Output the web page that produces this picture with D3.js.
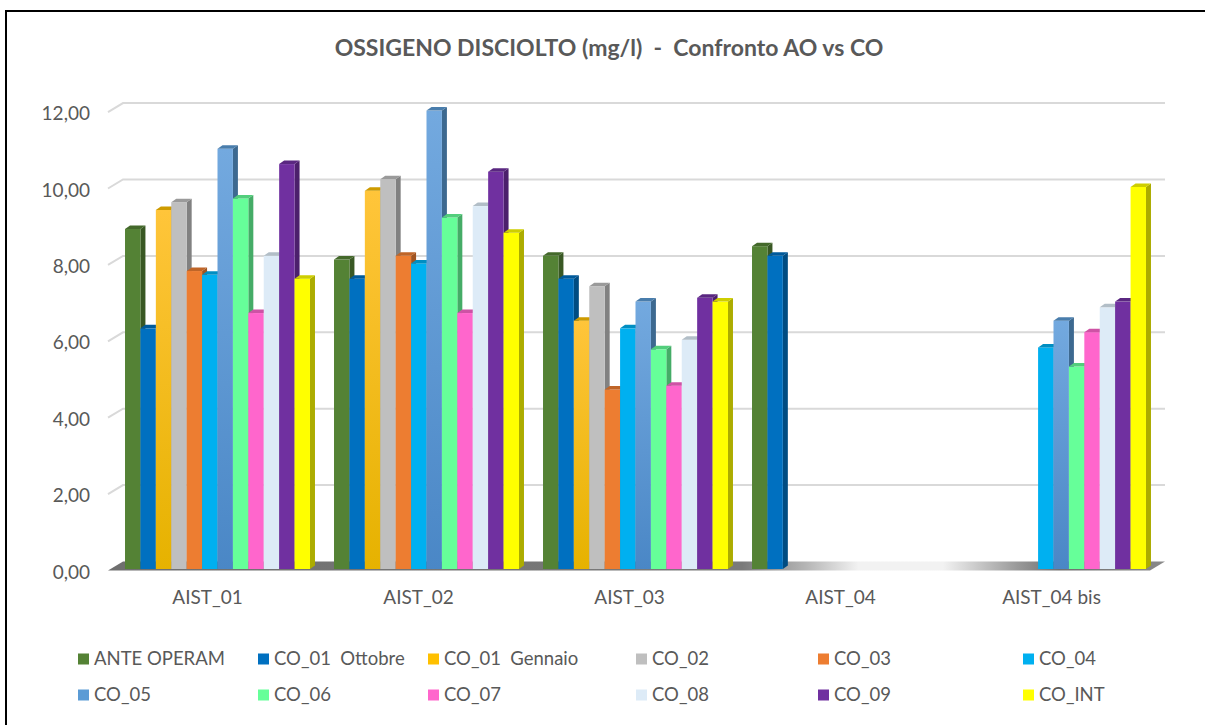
<!DOCTYPE html>
<html>
<head>
<meta charset="utf-8">
<script src="https://cdn.jsdelivr.net/npm/d3@7"></script>
<style>
  html, body { margin: 0; padding: 0; background: #ffffff; }
  svg text { font-family: Lato, "Open Sans", sans-serif; fill: #595959; white-space: pre; }
</style>
</head>
<body>
<script>
// Stations on the x axis
const categories = ["AIST_01", "AIST_02", "AIST_03", "AIST_04", "AIST_04 bis"];

// Campaign names (legend order = bar order inside each station)
const seriesNames = ["ANTE OPERAM", "CO_01  Ottobre", "CO_01  Gennaio", "CO_02", "CO_03", "CO_04",
                     "CO_05", "CO_06", "CO_07", "CO_08", "CO_09", "CO_INT"];

// Dissolved oxygen (mg/l) per campaign, one value per station (null = not sampled)
const anteOperam   = [8.9, 8.1, 8.2, 8.45, null];
const co01Ottobre  = [6.3, 7.6, 7.6, 8.2, null];
const co01Gennaio  = [9.4, 9.9, 6.5, null, null];
const co02         = [9.6, 10.2, 7.4, null, null];
const co03         = [7.8, 8.2, 4.7, null, null];
const co04         = [7.7, 8.0, 6.3, null, 5.8];
const co05         = [11.0, 12.0, 7.0, null, 6.5];
const co06         = [9.7, 9.2, 5.75, null, 5.3];
const co07         = [6.7, 6.7, 4.8, null, 6.2];
const co08         = [8.2, 9.5, 6.0, null, 6.85];
const co09         = [10.6, 10.4, 7.1, null, 7.0];
const coInt        = [7.6, 8.8, 7.0, null, 10.0];

const seriesValues = [anteOperam, co01Ottobre, co01Gennaio, co02, co03, co04,
                      co05, co06, co07, co08, co09, coInt];

// Y axis ticks
const yTicks = [0, 2, 4, 6, 8, 10, 12];

const titleText = "OSSIGENO DISCIOLTO (mg/l)  -  Confronto AO vs CO";

const colors = ["#548235", "#0070C0", "#FFC000", "#BFBFBF", "#ED7D31", "#00B0F0",
                "#5B9BD5", "#66FF99", "#FF66CC", "#DDEBF7", "#7030A0", "#FFFF00"];

const W = 1205, H = 725;
const svg = d3.select("body").append("svg").attr("width", W).attr("height", H);
const defs = svg.append("defs");

// 3D projection helpers: back wall is shifted right/up from the front plane
const depthX = 15, depthY = -9;
const barDX = 5, barDY = -3.5;

const yFront = d3.scaleLinear().domain([0, 12]).range([570.5, 112.1]);
const yBack = v => yFront(v) + depthY;
const yBar = d3.scaleLinear().domain([0, 12]).range([569, 110.6]);

const xBand = d3.scaleBand().domain(categories).range([113, 1158])
  .paddingInner(0.115).paddingOuter(0.0575);
const xSeries = d3.scaleBand().domain(seriesNames).range([0, xBand.bandwidth()]);
const xLabel = d3.scaleBand().domain(categories).range([102, 1157]);

const plotLeft = 108, plotRight = 1150;

// Outer frame
svg.append("rect").attr("x", 6).attr("y", 11).attr("width", 1220).attr("height", 740)
  .attr("fill", "none").attr("stroke", "#000").attr("stroke-width", 2);

// Title
svg.append("text").attr("x", 609).attr("y", 56).attr("text-anchor", "middle")
  .attr("font-size", 23).attr("font-weight", 700).text(titleText);

// Gridlines on the back wall, with the short diagonal on the side wall
svg.append("g").selectAll("path").data(yTicks.filter(d => d > 0)).join("path")
  .attr("d", d => `M${plotLeft},${yFront(d)}L${plotLeft + depthX},${yBack(d)}L${plotRight + depthX},${yBack(d)}`)
  .attr("fill", "none").attr("stroke", "#d9d9d9").attr("stroke-width", 2);

// Floor
const floorGrad = defs.append("linearGradient").attr("id", "floorGrad")
  .attr("x1", "0%").attr("x2", "100%").attr("y1", "0%").attr("y2", "0%");
[[0, "#6f6f6f"], [0.6, "#7a7a7a"], [0.66, "#b5b5b5"], [0.71, "#f2f2f2"], [0.79, "#f2f2f2"],
 [0.86, "#9a9a9a"], [0.9, "#6f6f6f"], [1, "#8a8a8a"]]
  .forEach(([o, c]) => floorGrad.append("stop").attr("offset", o).attr("stop-color", c));
svg.append("path")
  .attr("d", `M${plotLeft},${yFront(0)}L${plotLeft + depthX},${yBack(0)}L${plotRight + depthX},${yBack(0)}L${plotRight},${yFront(0)}Z`)
  .attr("fill", "url(#floorGrad)");

// Vertical gradients for the shaded series
function vGrad(id, top, bottom) {
  const g = defs.append("linearGradient").attr("id", id)
    .attr("x1", "0%").attr("x2", "0%").attr("y1", "0%").attr("y2", "100%");
  g.append("stop").attr("offset", 0).attr("stop-color", top);
  g.append("stop").attr("offset", 1).attr("stop-color", bottom);
}
vGrad("gGennaio", "#FFC53A", "#E6B200");
vGrad("gCo05", "#73A9DF", "#4A87C6");
const frontFill = i => i === 2 ? "url(#gGennaio)" : i === 6 ? "url(#gCo05)" : colors[i];

// Bars: front face, right side face and top face
const bars = [];
categories.forEach((cat, ci) => {
  seriesNames.forEach((s, si) => {
    const v = seriesValues[si][ci];
    if (v != null) bars.push({ cat, s, si, v });
  });
});

const barG = svg.append("g").selectAll("g").data(bars).join("g");
barG.each(function (d) {
  const g = d3.select(this);
  const x0 = xBand(d.cat) + xSeries(d.s);
  const w = xSeries.bandwidth();
  const yt = yBar(d.v), yb = yBar(0);
  const base = d3.color(colors[d.si]);
  // side
  g.append("path")
    .attr("d", `M${x0 + w},${yt}L${x0 + w + barDX},${yt + barDY}L${x0 + w + barDX},${yb + barDY}L${x0 + w},${yb}Z`)
    .attr("fill", base.darker(1.1).formatHex());
  // front
  g.append("rect").attr("x", x0).attr("y", yt).attr("width", w).attr("height", yb - yt)
    .attr("fill", frontFill(d.si));
  // top
  g.append("path")
    .attr("d", `M${x0},${yt}L${x0 + barDX},${yt + barDY}L${x0 + w + barDX},${yt + barDY}L${x0 + w},${yt}Z`)
    .attr("fill", base.darker(0.6).formatHex());
});

// Y axis labels
const yAxis = d3.axisLeft(yFront).tickValues(yTicks)
  .tickFormat(d => d3.format(".2f")(d).replace(".", ",")).tickSize(0).tickPadding(0);
const yAxisG = svg.append("g").attr("transform", "translate(90,1.5)").call(yAxis);
yAxisG.select(".domain").remove();
yAxisG.selectAll("text").attr("font-size", 19).attr("fill", "#595959")
  .style("font-family", "Lato, 'Open Sans', sans-serif");

// X axis labels
const xAxis = d3.axisBottom(xLabel).tickSize(0).tickPadding(0);
const xAxisG = svg.append("g").attr("transform", "translate(0,590)").call(xAxis);
xAxisG.select(".domain").remove();
xAxisG.selectAll("text").attr("font-size", 19).attr("fill", "#595959")
  .style("font-family", "Lato, 'Open Sans', sans-serif");

// Legend: 2 rows x 6 columns
const legendColX = [78, 258, 428, 636, 818, 1023];
const legendRowY = [659, 695];
const leg = svg.append("g").selectAll("g").data(seriesNames).join("g")
  .attr("transform", (d, i) => `translate(${legendColX[i % 6]},${legendRowY[Math.floor(i / 6)]})`);
leg.append("rect").attr("x", 0).attr("y", -5.5).attr("width", 11).attr("height", 11)
  .attr("fill", (d, i) => colors[i]);
leg.append("text").attr("x", 16).attr("y", 0).attr("dy", "0.35em").attr("font-size", 18.5)
  .text(d => d);
</script>
</body>
</html>
